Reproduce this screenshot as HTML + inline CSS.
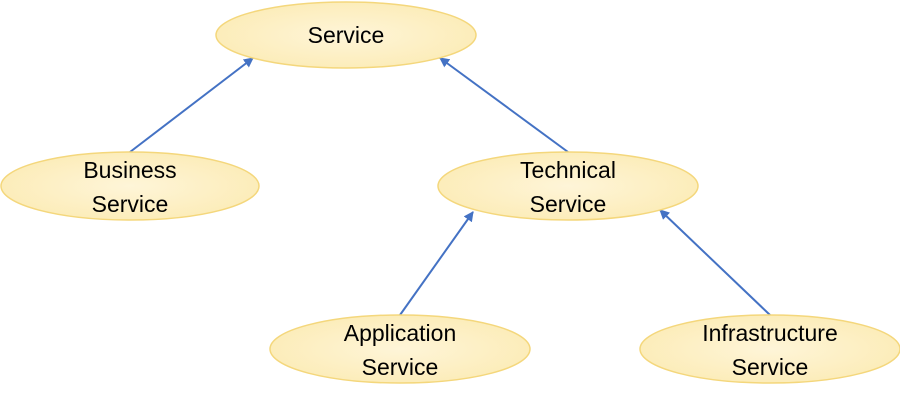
<!DOCTYPE html>
<html><head><style>
html,body{margin:0;padding:0;background:#fff;}
svg{display:block}
text{font-family:"Liberation Sans","DejaVu Sans",sans-serif;font-size:23px;fill:#000;text-anchor:middle;}
</style></head><body>
<svg width="900" height="400" viewBox="0 0 900 400" xmlns="http://www.w3.org/2000/svg">
<defs>
<radialGradient id="g" cx="50%" cy="50%" r="60%">
<stop offset="0" stop-color="#fef5d8"/><stop offset="1" stop-color="#fcebb4"/>
</radialGradient>
<marker id="a" markerWidth="10" markerHeight="10" refX="9" refY="5" orient="auto" markerUnits="userSpaceOnUse">
<path d="M0,0 L10,5 L0,10 z" fill="#4472c4"/>
</marker>
</defs>
<g stroke="#4472c4" stroke-width="2" marker-end="url(#a)">
<line x1="130" y1="152" x2="253" y2="58"/>
<line x1="568" y1="152" x2="440" y2="58"/>
<line x1="400" y1="315" x2="473" y2="212"/>
<line x1="770" y1="315" x2="660" y2="210"/>
</g>
<g fill="url(#g)" stroke="#f4d77c" stroke-width="1.5">
<ellipse cx="346" cy="35" rx="130" ry="33"/>
<ellipse cx="130" cy="186" rx="129" ry="34"/>
<ellipse cx="568" cy="186" rx="130" ry="34"/>
<ellipse cx="400" cy="349" rx="130" ry="34"/>
<ellipse cx="770" cy="349" rx="130" ry="34"/>
</g>
<text x="346" y="43">Service</text>
<text x="130" y="178">Business</text><text x="130" y="212">Service</text>
<text x="568" y="178">Technical</text><text x="568" y="212">Service</text>
<text x="400" y="341">Application</text><text x="400" y="375">Service</text>
<text x="770" y="341">Infrastructure</text><text x="770" y="375">Service</text>
</svg>
</body></html>
